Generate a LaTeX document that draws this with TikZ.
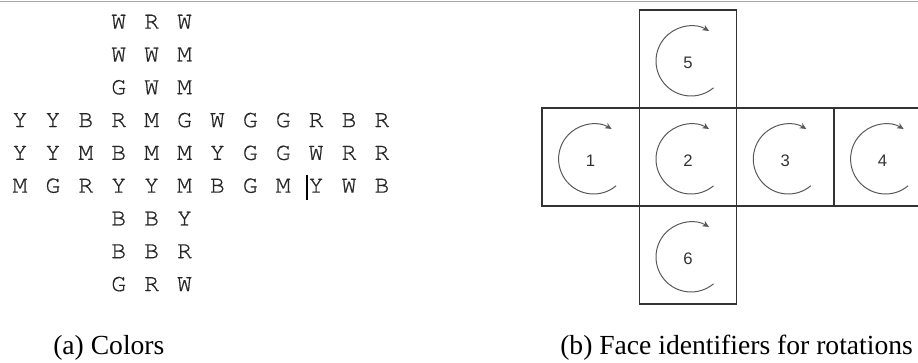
\documentclass[tikz,border=0pt]{standalone}
\usepackage{fontspec}
\setmainfont{Liberation Serif}
\newfontfamily\digitfont{Liberation Sans}
\newfontfamily\gridfont[FakeBold=0.7]{TeX Gyre Cursor}
\usetikzlibrary{arrows.meta,calc}
\begin{document}
\begin{tikzpicture}[x=0.75pt,y=0.75pt,
  cell/.style={font=\gridfont\fontsize{18.5}{19}\selectfont, text=black!85, inner sep=0pt},
  face/.style={draw=black!80, line width=1.1pt, minimum width=73pt, minimum height=73.5pt, inner sep=0pt, outer sep=0pt},
  digit/.style={font=\digitfont\fontsize{12.5}{12.5}\selectfont, text=black!80, inner sep=0pt},
  rot/.style={draw=black!65, line width=0.75pt, -{Stealth[length=5pt,width=4.5pt]}},
  capt/.style={font=\fontsize{20.7}{24}\selectfont, inner sep=0pt, anchor=base west},
  topline/.style={draw=black!35, line width=0.9pt},
  cursor/.style={draw=black, line width=0.8pt}]
\useasboundingbox (0,0) rectangle (918,-363);
\clip (0,0) rectangle (918,-363);
\draw[topline] (0,-1.5) -- (918,-1.5);
% colour grid
\foreach \row/\start/\letters in {0/3/{W,R,W},1/3/{W,W,M},2/3/{G,W,M},
  3/0/{Y,Y,B,R,M,G,W,G,G,R,B,R},4/0/{Y,Y,M,B,M,M,Y,G,G,W,R,R},
  5/0/{M,G,R,Y,Y,M,B,G,M,Y,W,B},6/3/{B,B,Y},7/3/{B,B,R},8/3/{G,R,W}}{
  \foreach \ch [count=\c from \start] in \letters {
    \node[cell] (g\row-\c) at ({20+32.9*\c},{-21.7-32.8*\row}) {\ch};
  }
}
\draw[cursor] (307,-175) -- (307,-200);
% faces
\node[face] (f5) at (688,-59) {};
\node[face] (f1) at (590.6,-157) {};
\node[face] (f2) at (688,-157) {};
\node[face] (f3) at (785.3,-157) {};
\node[face] (f4) at (882.6,-157) {};
\node[face] (f6) at (688,-255) {};
\foreach \f in {1,...,6}{
  \draw[rot] ($(f\f.center)+(3,-2)$) ++(-50:35) arc[start angle=-50,end angle=-301,radius=35];
  \node[digit] (d\f) at ($(f\f.center)+(0,-4)$) {\f};
}
\node[capt] (capa) at (53,-355) {(a) Colors};
\node[capt] (capb) at (560,-355) {(b) Face identifiers for rotations};
\end{tikzpicture}
\end{document}
